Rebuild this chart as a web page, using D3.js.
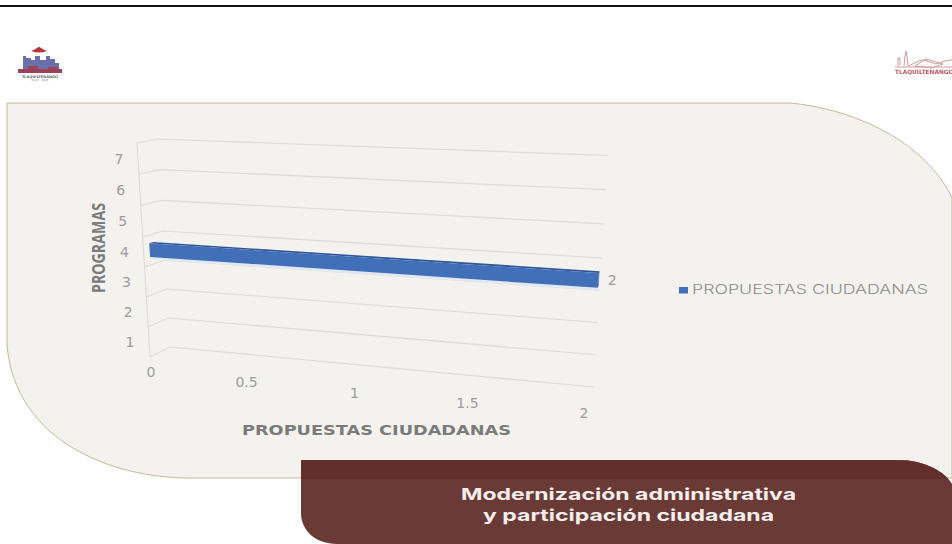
<!DOCTYPE html>
<html><head><meta charset="utf-8">
<style>html,body{margin:0;padding:0;background:#fff}svg{display:block}</style>
<script src="https://cdn.jsdelivr.net/npm/d3@7/dist/d3.min.js"></script>
</head><body><svg id="c" width="952" height="544"></svg>
<script>
const programas=[1,2,3,4,5,6,7];
const propuestas=[null,null,null,2,null,null,null];
const xTicks=[0,0.5,1,1.5,2];
const gridLevels=[0,1,2,3,4,5,6,7];
const seriesName="PROPUESTAS CIUDADANAS";
const xTitle="PROPUESTAS CIUDADANAS";
const yTitle="PROGRAMAS";
const bannerLines=["Modernización administrativa","y participación ciudadana"];
const logoName="TLAQUILTENANGO";
const logoYears="2022 - 2024";

const svg=d3.select("#c");
const font="'DejaVu Sans',sans-serif";
const inter="Inter,sans-serif";
const defs=svg.append("defs");
defs.append("filter").attr("id","soft").append("feGaussianBlur").attr("stdDeviation",0.45);
defs.append("filter").attr("id","soft2").append("feGaussianBlur").attr("stdDeviation",0.3);
svg.append("rect").attr("width",952).attr("height",544).attr("fill","#fff");
svg.append("rect").attr("x",0).attr("y",5).attr("width",952).attr("height",2).attr("fill","#111");

// left logo
const L=svg.append("g").attr("filter","url(#soft)");
L.append("path").attr("d","M31,51 Q35,49.5 37,48 Q39,46 41,48 Q43,49.5 47,51 Q39,54 31,51Z").attr("fill","#b5343a");
L.append("path").attr("d","M23,70 V56 H26 V58 H31 V60 H35 V56 H40 V60 H46 V56 H50 V59 H55 V63 H59 V70Z").attr("fill","#6c70aa");
L.append("path").attr("d","M18,73 V69 H28 V66 H38 V69 H48 V67 H58 V69 H62 V73Z").attr("fill","#9a4358");
L.append("text").attr("x",40).attr("y",77.5).attr("text-anchor","middle").attr("font-family",font).attr("font-weight",700).attr("font-size",3.6).attr("fill","#666").text(logoName);
L.append("text").attr("x",40).attr("y",81).attr("text-anchor","middle").attr("font-family",font).attr("font-size",2.8).attr("fill","#888").text(logoYears);

// right logo
const R=svg.append("g").attr("filter","url(#soft2)").attr("fill","none").attr("stroke","#cf9a9a").attr("stroke-width",1);
R.append("path").attr("d","M898,66 V58 H900 V65 M904,66 L905,56 L906,51 L907,56 L908,66 M908,66 C914,64 918,60 924,60 L936,64 C942,62 946,60 952,60");
R.append("path").attr("d","M915,66 L926,59 L943,64 L932,68 Z M895,67 H952");
R.append("text").attr("x",895).attr("y",73.5).attr("stroke","none").attr("fill","#b5555a").attr("font-family",font).attr("font-weight",700).attr("font-size",5.8).text(logoName);

// panel
svg.append("path").attr("d","M7,103 H790 C845,108 920,135 952,197 V478 H190 C110,478 15,440 7,345 Z")
  .attr("fill","#f3f2ef").attr("stroke","#c3ba98").attr("stroke-width",1);

// projection
const frontX=d3.scaleLinear([0,7],[150,137]);
const frontY=d3.scaleLinear([0,4,7],[357,237,143]);
const backX=d3.scaleLinear([0,7],[170,158]);
const backY=d3.scaleLinear([0,4,7],[347,231,139]);
const rightX=d3.scaleLinear([0,7],[593.5,608]);
const rightY=d3.scaleLinear([0,4,7],[387,258,155.5]);
const valT=d3.scaleLinear([0,2],[0,1]);
const band=d3.scaleBand(programas,[0,7]);
function P(v,level,d){
  const lx=frontX(level)+(backX(level)-frontX(level))*d;
  const ly=frontY(level)+(backY(level)-frontY(level))*d;
  const rx=rightX(level)-3.5*(1-d), ry=rightY(level)+9*(1-d);
  const t=valT(v);
  return [lx+(rx-lx)*t, ly+(ry-ly)*t];
}
const g=svg.append("g").attr("fill","none").attr("stroke","#dcdbd7").attr("stroke-width",1.1);
g.selectAll(".h").data(gridLevels).join("path")
 .attr("d",l=>d3.line()([[frontX(l),frontY(l)],[backX(l),backY(l)],[rightX(l),rightY(l)]]));
g.append("path").attr("d",d3.line()([[frontX(0),frontY(0)],[frontX(7),frontY(7)]]));

// y tick labels
const tickC="#9c9c9c";
svg.append("g").selectAll("text").data(programas).join("text")
 .attr("x",d=>frontX(band(d)+band.bandwidth()/2)-19)
 .attr("y",d=>frontY(band(d)+band.bandwidth()/2)+5)
 .attr("text-anchor","middle").attr("font-family",font).attr("font-size",14)
 .attr("fill",tickC).text(d=>d);

// x tick labels
const tx=d3.scalePow().exponent(1.09).domain([0,2]).range([151,584]);
const ty=d3.scaleLinear([0,2],[372,413]);
svg.append("g").selectAll("text").data(xTicks).join("text")
 .attr("x",d=>tx(d)).attr("y",d=>ty(d)+5).attr("text-anchor","middle")
 .attr("font-family",font).attr("font-size",14).attr("fill",tickC).text(d=>d);

// bar
const dF=0.3,dB=0.5;
programas.forEach((p,i)=>{
  const v=propuestas[i]; if(v==null) return;
  const lo=p-1+0.27, hi=p-1+0.73;
  const poly=a=>d3.line()(a)+"Z";
  const edge=[P(0,lo,dF),P(v,lo,dF),P(v,lo-0.08,dF),P(0,lo-0.08,dF)];
  svg.append("path").attr("d",poly(edge)).attr("fill","#e3e9f4");
  svg.append("path").attr("d",poly([P(0,hi,dF),P(v,hi,dF),P(v,hi,dB),P(0,hi,dB)])).attr("fill","#2f5597");
  svg.append("path").attr("d",poly([P(v,lo,dF),P(v,hi,dF),P(v,hi,dB),P(v,lo,dB)])).attr("fill","#2f5597");
  svg.append("path").attr("d",poly([P(0,lo,dF),P(v,lo,dF),P(v,hi,dF),P(0,hi,dF)])).attr("fill","#4170b8");
  const e=P(v,(lo+hi)/2,dF);
  svg.append("text").attr("x",e[0]+14).attr("y",e[1]+5).attr("text-anchor","middle")
    .attr("font-family",font).attr("font-size",14).attr("fill",tickC).text(v);
});

// titles
svg.append("text").attr("x",242).attr("y",435)
 .attr("textLength",269).attr("lengthAdjust","spacingAndGlyphs")
 .attr("font-family",font).attr("font-weight",700).attr("font-size",13.5).attr("fill","#7b7b7b").text(xTitle);
svg.append("text").attr("transform","translate(105,293) rotate(-90)")
 .attr("textLength",90).attr("lengthAdjust","spacingAndGlyphs")
 .attr("font-family","'Open Sans',sans-serif").attr("font-weight",700).attr("font-size",17.5).attr("fill","#7b7b7b").text(yTitle);

// legend
svg.append("rect").attr("x",679).attr("y",287).attr("width",9).attr("height",6.5).attr("fill","#4170b8");
svg.append("text").attr("x",692).attr("y",294)
 .attr("textLength",236).attr("lengthAdjust","spacingAndGlyphs")
 .attr("font-family",inter).attr("font-weight",300).attr("font-size",13.5).attr("fill","#8c8c8c").text(seriesName);

// banner
const bannerPath="M301,460 H898 C925,460 945,472 952,484 V544 H337 C315,544 301,530 301,513 Z";
defs.append("clipPath").attr("id","bc").append("path").attr("d",bannerPath);
svg.append("path").attr("d",bannerPath).attr("fill","#6a3a37");
svg.append("rect").attr("x",301).attr("y",460).attr("width",651).attr("height",19).attr("fill","#632f2c").attr("clip-path","url(#bc)");
const bannerW=[335,291];
svg.append("g").selectAll("text").data(bannerLines).join("text")
 .attr("x",(d,i)=>628.5-bannerW[i]/2).attr("y",(d,i)=>499.5+i*21.2)
 .attr("textLength",(d,i)=>bannerW[i]).attr("lengthAdjust","spacingAndGlyphs")
 .attr("font-family",inter).attr("font-weight",700).attr("font-size",16.5).attr("fill","#f4efec").text(d=>d);
</script></body></html>
